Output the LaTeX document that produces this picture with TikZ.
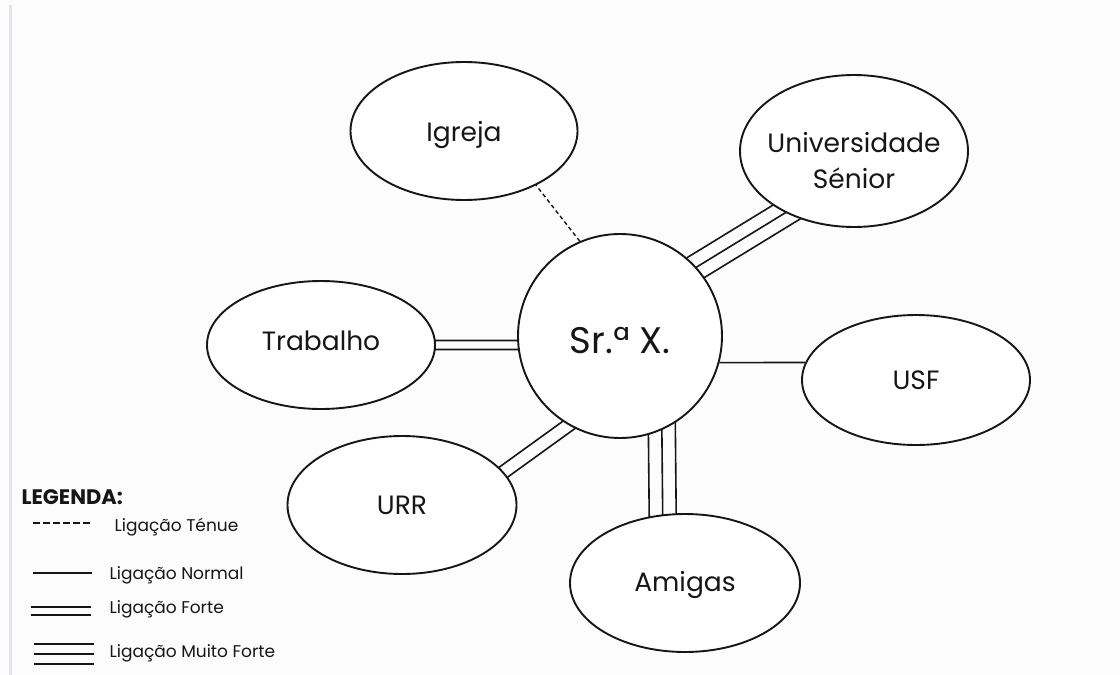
\documentclass[tikz,border=0pt]{standalone}
\usepackage{fontspec}
\setmainfont{Poppins}
\usetikzlibrary{shapes.geometric,calc,backgrounds}
\definecolor{paper}{HTML}{FCFCFC}
\definecolor{rule}{HTML}{E4E4EC}
\definecolor{ink}{HTML}{161616}
\begin{document}
\begin{tikzpicture}[x=1pt,y=-1pt,
  bubble/.style={ellipse,draw=ink,line width=1.9pt,fill=white,inner sep=0pt},
  lbl/.style={font=\fontsize{26.5}{36}\selectfont,align=center,text=ink},
  link/.style={ink,line width=1.6pt,shorten <=-16pt,shorten >=-16pt},
  faint/.style={ink,line width=1.4pt,dash pattern=on 4pt off 3pt},
  key/.style={ink,line width=1.5pt},
  keytext/.style={anchor=west,font=\fontsize{17}{20}\selectfont,text=ink}]
\useasboundingbox (0,0) rectangle (1120,675);

% central person and the surrounding network
\node[bubble,circle,minimum size=204,
      label={[font=\fontsize{37}{42}\selectfont,text=ink,yshift=-5pt]center:Sr.ª X.}] (sr) at (620,336) {};
\node[bubble,minimum width=227,minimum height=138,label={[lbl,yshift=-4pt]center:Igreja}] (igreja) at (464,131) {};
\node[bubble,minimum width=228,minimum height=152,label={[lbl,yshift=-10pt]center:Universidade\\Sénior}] (univ) at (854,151) {};
\node[bubble,minimum width=228,minimum height=128,label={[lbl,yshift=4pt]center:Trabalho}] (trab) at (321,345) {};
\node[bubble,minimum width=228,minimum height=130,label={[lbl]center:USF}] (usf) at (916,380) {};
\node[bubble,minimum width=229,minimum height=138,label={[lbl]center:URR}] (urr) at (402,505) {};
\node[bubble,minimum width=230,minimum height=138,label={[lbl,yshift=-2pt]center:Amigas}] (amigas) at (685,583) {};

% canvas and ties, drawn underneath so the bubbles trim the tie ends
\begin{scope}[on background layer]
  \fill[paper] (0,0) rectangle (1120,675);
  \draw[rule,line width=3pt] (10,5) -- (10,675);
  \foreach \d in {-13pt,0pt,13pt}
    \draw[link] ($(sr.42)!\d!90:(univ.222)$) -- ($(univ.222)!\d!-90:(sr.42)$);
  \foreach \d in {-4.5pt,4.5pt}
    \draw[link] ($(sr.185)!\d!90:(trab.0)$) -- ($(trab.0)!\d!-90:(sr.185)$);
  \foreach \d in {-6.5pt,6.5pt}
    \draw[link] ($(sr.240)!\d!90:(urr.18)$) -- ($(urr.18)!\d!-90:(sr.240)$);
  \foreach \d in {-13.5pt,0pt,13.5pt}
    \draw[link] ($(sr.294)!\d!90:(amigas.108)$) -- ($(amigas.108)!\d!-90:(sr.294)$);
\end{scope}
\draw[ink,line width=1.6pt] (sr.-15.4) -- (usf.171);
\draw[faint] (sr.113) -- (igreja.-37);

% legend
\node[anchor=west,font=\fontsize{21}{24}\selectfont\bfseries,text=ink] (legtitle) at (18,497) {LEGENDA:};
\draw[key,dash pattern=on 7pt off 3pt] (33,523) -- (93,523);
\node[keytext] (ktenue) at (111,527) {Ligação Ténue};
\draw[key] (33,573) -- (92,573);
\node[keytext] (knormal) at (106,575) {Ligação Normal};
\draw[key] (31,607) -- (91,607);
\draw[key] (31,615) -- (91,615);
\node[keytext] (kforte) at (106,609) {Ligação Forte};
\draw[key] (34,644) -- (94,644);
\draw[key] (34,654) -- (94,654);
\draw[key] (34,664) -- (94,664);
\node[keytext] (kmuito) at (106,653) {Ligação Muito Forte};
\end{tikzpicture}
\end{document}
